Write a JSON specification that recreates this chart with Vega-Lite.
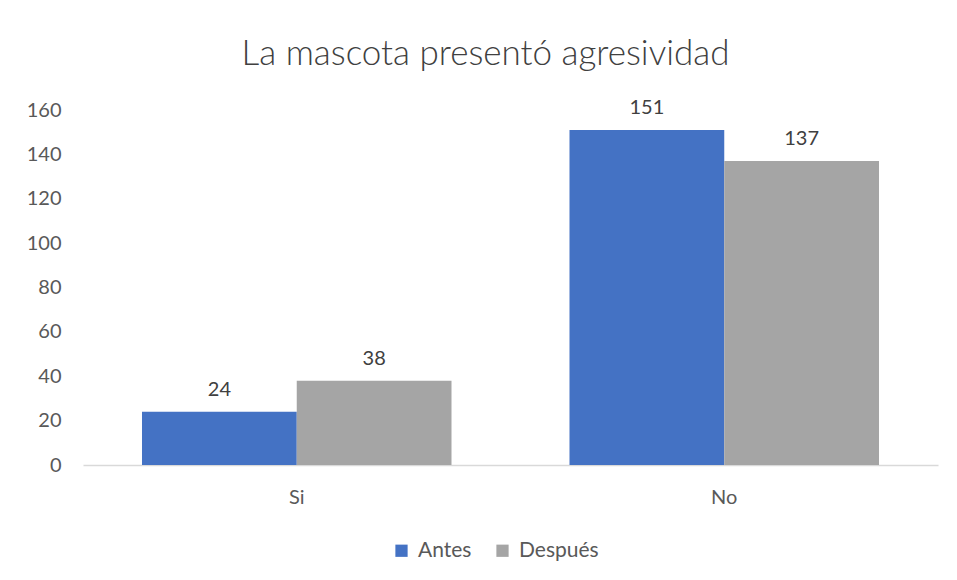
{
  "$schema": "https://vega.github.io/schema/vega-lite/v6.json",
  "autosize": {"type": "none"},
  "padding": {"left": 83, "top": 110, "right": 19, "bottom": 115},
  "width": 855,
  "height": 355,
  "background": "white",
  "title": {
    "text": "La mascota presentó agresividad",
    "font": "Lato",
    "fontSize": 35,
    "fontWeight": 300,
    "color": "#404040",
    "anchor": "middle",
    "dx": -25,
    "offset": 26
  },
  "data": {
    "values": [
      {"respuesta": "Si", "momento": "Antes", "valor": 24},
      {"respuesta": "Si", "momento": "Después", "valor": 38},
      {"respuesta": "No", "momento": "Antes", "valor": 151},
      {"respuesta": "No", "momento": "Después", "valor": 137}
    ]
  },
  "encoding": {
    "x": {
      "field": "respuesta",
      "type": "nominal",
      "sort": ["Si", "No"],
      "scale": {"paddingInner": 0.276, "paddingOuter": 0.138},
      "axis": {
        "title": null,
        "labelAngle": 0,
        "ticks": false,
        "domainColor": "#D9D9D9",
        "domainWidth": 1.5,
        "labelFont": "Lato",
        "labelFontSize": 20,
        "labelColor": "#595959",
        "labelPadding": 22
      }
    },
    "xOffset": {
      "field": "momento",
      "type": "nominal",
      "sort": ["Antes", "Después"],
      "scale": {"paddingInner": 0, "paddingOuter": 0}
    },
    "y": {
      "field": "valor",
      "type": "quantitative",
      "scale": {"domain": [0, 160], "nice": false},
      "axis": {
        "title": null,
        "values": [0, 20, 40, 60, 80, 100, 120, 140, 160],
        "grid": false,
        "domain": false,
        "ticks": false,
        "labelFont": "Lato",
        "labelFontSize": 20,
        "labelColor": "#595959",
        "labelPadding": 22
      }
    }
  },
  "layer": [
    {
      "mark": {"type": "bar"},
      "encoding": {
        "color": {
          "field": "momento",
          "type": "nominal",
          "sort": ["Antes", "Después"],
          "scale": {"domain": ["Antes", "Después"], "range": ["#4472C4", "#A5A5A5"]},
          "legend": {
            "title": null,
            "orient": "none",
            "direction": "horizontal",
            "legendX": 308,
            "legendY": 430,
            "symbolType": "square",
            "symbolSize": 150,
            "symbolStrokeWidth": 0,
            "symbolOpacity": 1,
            "labelFont": "Lato",
            "labelFontSize": 21,
            "labelColor": "#595959",
            "columnPadding": 20,
            "labelOffset": 6
          }
        }
      }
    },
    {
      "mark": {"type": "text", "baseline": "bottom", "dy": -12, "font": "Lato", "fontSize": 20, "color": "#404040"},
      "encoding": {
        "text": {"field": "valor", "type": "quantitative"}
      }
    }
  ],
  "config": {
    "view": {"stroke": null}
  }
}
